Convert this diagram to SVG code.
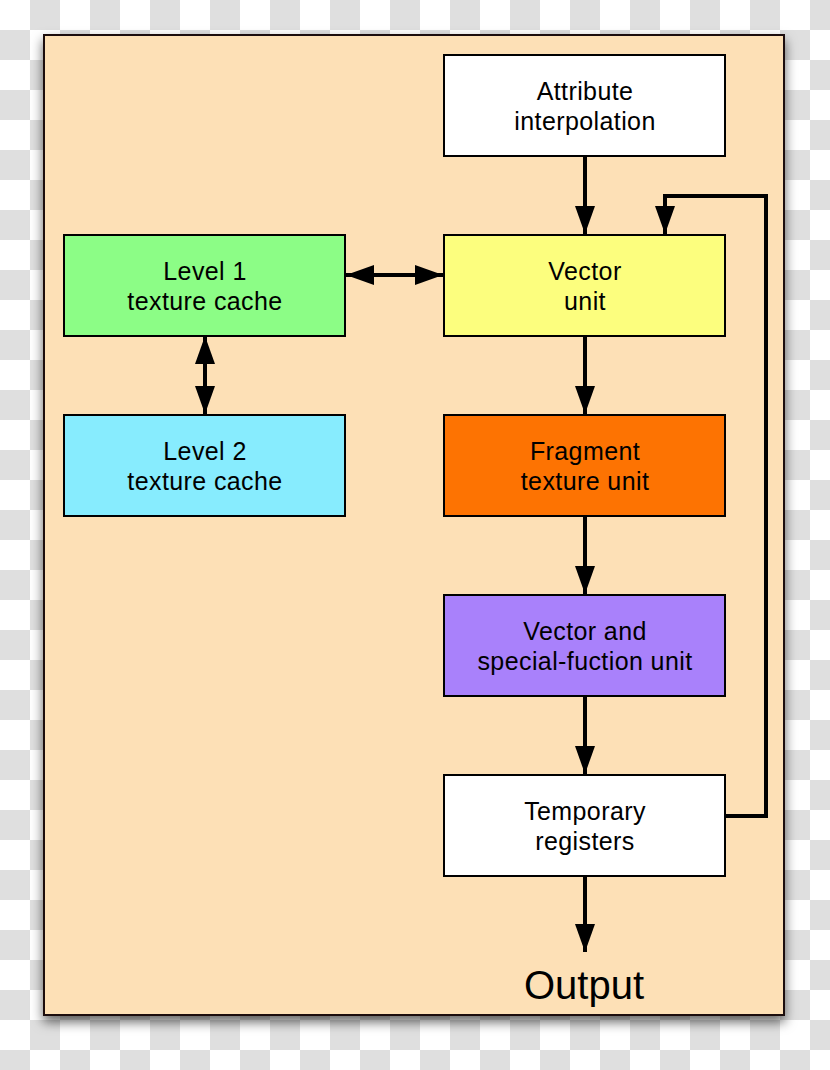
<svg xmlns="http://www.w3.org/2000/svg" width="830" height="1070" viewBox="0 0 830 1070">
<defs>
<pattern id="checker" x="0" y="0" width="60" height="60" patternUnits="userSpaceOnUse">
<rect width="60" height="60" fill="#ffffff"/>
<rect x="30" y="0" width="30" height="30" fill="#dfdfdf"/>
<rect x="0" y="30" width="30" height="30" fill="#dfdfdf"/>
</pattern>
<filter id="shadow" x="-10%" y="-10%" width="120%" height="120%">
<feDropShadow dx="0" dy="6" stdDeviation="6" flood-color="#000" flood-opacity="0.6"/>
</filter>
<marker id="head" viewBox="0 0 28 20" refX="28" refY="10" markerWidth="28" markerHeight="20" markerUnits="userSpaceOnUse" orient="auto-start-reverse">
<path d="M0,0 L28,10 L0,20 Z" fill="#000"/>
</marker>
<style>
.box{stroke:#000;stroke-width:2}
.lbl{font-family:"Liberation Sans",Arial,sans-serif;font-size:25px;letter-spacing:0.4px;fill:#000;text-anchor:middle}
.con{fill:none;stroke:#000;stroke-width:4}
</style>
</defs>
<rect width="830" height="1070" fill="url(#checker)"/>
<rect x="44" y="35" width="740" height="980" fill="#fde0b6" stroke="#1a0f0f" stroke-width="2" filter="url(#shadow)"/>

<g id="connectors">
<line class="con" x1="585" y1="156" x2="585" y2="234" marker-end="url(#head)"/>
<line class="con" x1="346" y1="275" x2="443" y2="275" marker-start="url(#head)" marker-end="url(#head)"/>
<line class="con" x1="205" y1="336" x2="205" y2="414" marker-start="url(#head)" marker-end="url(#head)"/>
<line class="con" x1="585" y1="336" x2="585" y2="414" marker-end="url(#head)"/>
<line class="con" x1="585" y1="516" x2="585" y2="594" marker-end="url(#head)"/>
<line class="con" x1="585" y1="696" x2="585" y2="774" marker-end="url(#head)"/>
<line class="con" x1="585" y1="876" x2="585" y2="952" marker-end="url(#head)"/>
<polyline class="con" points="725,816 766,816 766,196 665,196 665,234" marker-end="url(#head)"/>
</g>

<g id="attribute">
<rect class="box" x="444" y="55" width="281" height="101" fill="#ffffff"/>
<text class="lbl" x="585" y="100">Attribute</text>
<text class="lbl" x="585" y="130">interpolation</text>
</g>
<g id="level1">
<rect class="box" x="64" y="235" width="281" height="101" fill="#8cfd86"/>
<text class="lbl" x="205" y="280">Level 1</text>
<text class="lbl" x="205" y="310">texture cache</text>
</g>
<g id="vector">
<rect class="box" x="444" y="235" width="281" height="101" fill="#fcfe7e"/>
<text class="lbl" x="585" y="280">Vector</text>
<text class="lbl" x="585" y="310">unit</text>
</g>
<g id="level2">
<rect class="box" x="64" y="415" width="281" height="101" fill="#87ecfe"/>
<text class="lbl" x="205" y="460">Level 2</text>
<text class="lbl" x="205" y="490">texture cache</text>
</g>
<g id="fragment">
<rect class="box" x="444" y="415" width="281" height="101" fill="#fd7302"/>
<text class="lbl" x="585" y="460">Fragment</text>
<text class="lbl" x="585" y="490">texture unit</text>
</g>
<g id="vectorsfu">
<rect class="box" x="444" y="595" width="281" height="101" fill="#a981fb"/>
<text class="lbl" x="585" y="640">Vector and</text>
<text class="lbl" x="585" y="670">special-fuction unit</text>
</g>
<g id="temporary">
<rect class="box" x="444" y="775" width="281" height="101" fill="#ffffff"/>
<text class="lbl" x="585" y="820">Temporary</text>
<text class="lbl" x="585" y="850">registers</text>
</g>
<g id="output">
<text class="lbl" x="584" y="999" style="font-size:40px;letter-spacing:0">Output</text>
</g>
</svg>
